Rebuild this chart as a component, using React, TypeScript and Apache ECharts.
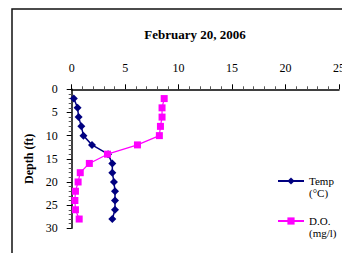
import React, { useEffect, useRef } from "react";
import * as echarts from "echarts";

const depths = [2, 4, 6, 8, 10, 12, 14, 16, 18, 20, 22, 24, 26, 28];
const tempValues = [0.2, 0.55, 0.65, 0.9, 1.1, 1.9, 3.4, 3.8, 3.8, 3.95, 4.05, 4.05, 4.05, 3.8];
const doValues = [8.65, 8.45, 8.45, 8.3, 8.2, 6.15, 3.35, 1.65, 0.8, 0.6, 0.35, 0.3, 0.35, 0.7];
const seriesNames = ["Temp (°C)", "D.O. (mg/l)"];
const titleText = "February 20, 2006";
const yAxisName = "Depth (ft)";

const FONT = "'Liberation Serif', serif";

export default function App() {
  const ref = useRef<HTMLDivElement>(null);
  useEffect(() => {
    if (!ref.current) return;
    const chart = echarts.init(ref.current, undefined, { renderer: "svg" });
    const legendText = {
      fontFamily: FONT,
      fontSize: 11,
      color: "#000",
      lineHeight: 12,
    };
    const fmt = (n: string) => "\n" + n.replace(" ", "\n");
    const legendBase = {
      left: 277,
      padding: 0,
      itemWidth: 26,
      itemHeight: 9,
      itemGap: 2,
      formatter: fmt,
      textStyle: legendText,
      selectedMode: false,
    };
    chart.setOption({
      animation: false,
      backgroundColor: "#fff",
      title: {
        text: titleText,
        left: 190,
        textAlign: "center",
        top: 22.5,
        textStyle: { fontFamily: FONT, fontSize: 13, fontWeight: "bold", color: "#000" },
      },
      graphic: [
        {
          type: "rect",
          shape: { x: 12, y: 9, width: 400, height: 300 },
          style: { fill: "none", stroke: "#111", lineWidth: 1.5 },
          silent: true,
        },
      ],
      legend: [
        { ...legendBase, data: [seriesNames[0]], top: 163 },
        { ...legendBase, data: [seriesNames[1]], top: 203 },
      ],
      grid: {
        left: 71.7,
        top: 89.3,
        right: 3,
        bottom: 24.7,
        containLabel: false,
        outerBoundsMode: "none",
      },
      xAxis: {
        type: "value",
        position: "top",
        min: 0,
        max: 25,
        interval: 5,
        axisLine: { show: true, lineStyle: { color: "#000", width: 1.5 } },
        axisTick: { show: true, length: 5, lineStyle: { color: "#000" } },
        minorTick: { show: true, splitNumber: 5, length: 3, lineStyle: { color: "#555" } },
        splitLine: { show: false },
        axisLabel: {
          margin: 15,
          fontFamily: FONT,
          fontSize: 12,
          color: "#000",
          alignMaxLabel: "center",
          alignMinLabel: "center",
        },
      },
      yAxis: {
        type: "value",
        inverse: true,
        min: 0,
        max: 30,
        interval: 5,
        name: yAxisName,
        nameLocation: "middle",
        nameGap: 34,
        nameRotate: 90,
        nameTextStyle: { fontFamily: FONT, fontSize: 12, fontWeight: "bold", color: "#000" },
        axisLine: { show: true, lineStyle: { color: "#000", width: 1.5 } },
        axisTick: { show: true, length: 5, lineStyle: { color: "#000" } },
        minorTick: { show: true, splitNumber: 5, length: 3, lineStyle: { color: "#555" } },
        splitLine: { show: false },
        axisLabel: { margin: 14, fontFamily: FONT, fontSize: 12, color: "#000" },
      },
      series: [
        {
          name: seriesNames[0],
          type: "line",
          data: depths.map((d, i) => [tempValues[i], d]),
          symbol: "diamond",
          symbolSize: 8,
          lineStyle: { color: "#000080", width: 1.5 },
          itemStyle: { color: "#000080" },
          z: 2,
        },
        {
          name: seriesNames[1],
          type: "line",
          data: depths.map((d, i) => [doValues[i], d]),
          symbol: "rect",
          symbolSize: 7,
          lineStyle: { color: "#FF00FF", width: 1.2 },
          itemStyle: { color: "#FF00FF" },
          z: 3,
        },
      ],
    });
    return () => chart.dispose();
  }, []);
  return (
    <div
      ref={ref}
      style={{ position: "fixed", left: 0, top: 0, width: 342, height: 253 }}
    />
  );
}
